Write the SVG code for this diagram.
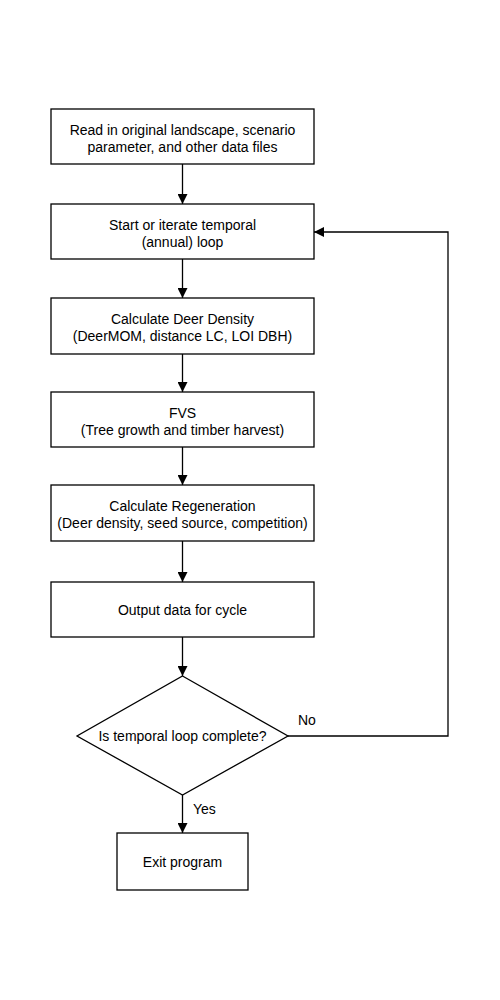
<svg xmlns="http://www.w3.org/2000/svg" width="500" height="1000" viewBox="0 0 500 1000">
<defs>
<style>
.box{fill:#fff;stroke:#000;stroke-width:1.3}
.t{font-family:"Liberation Sans",Arial,sans-serif;font-size:14px;fill:#000;text-anchor:middle}
.l{font-family:"Liberation Sans",Arial,sans-serif;font-size:14px;fill:#000}
.c{fill:none;stroke:#000;stroke-width:1.3}
</style>
<marker id="ah" markerWidth="10" markerHeight="10" viewBox="0 0 10 10" refX="10" refY="5" orient="auto" markerUnits="userSpaceOnUse">
<path d="M0,0 L10,5 L0,10 z" fill="#000"/>
</marker>
</defs>
<rect width="500" height="1000" fill="#fff"/>
<g id="connectors">
<line class="c" x1="182.5" y1="164" x2="182.5" y2="204" marker-end="url(#ah)"/>
<line class="c" x1="182.5" y1="259" x2="182.5" y2="298" marker-end="url(#ah)"/>
<line class="c" x1="182.5" y1="354" x2="182.5" y2="392" marker-end="url(#ah)"/>
<line class="c" x1="182.5" y1="447" x2="182.5" y2="485" marker-end="url(#ah)"/>
<line class="c" x1="182.5" y1="541" x2="182.5" y2="582" marker-end="url(#ah)"/>
<line class="c" x1="182.5" y1="637" x2="182.5" y2="676" marker-end="url(#ah)"/>
<line class="c" x1="182.5" y1="795" x2="182.5" y2="833" marker-end="url(#ah)"/>
<polyline class="c" points="288,736 448,736 448,232 314,232" marker-end="url(#ah)"/>
<text class="l" x="298" y="725">No</text>
<text class="l" x="193" y="814">Yes</text>
</g>
<g id="n1"><rect class="box" x="51" y="109" width="263" height="55"/>
<text class="t" x="182.5" y="134.5">Read in original landscape, scenario</text>
<text class="t" x="182.5" y="152">parameter, and other data files</text></g>
<g id="n2"><rect class="box" x="51" y="204" width="263" height="55"/>
<text class="t" x="182.5" y="229.5">Start or iterate temporal</text>
<text class="t" x="182.5" y="247">(annual) loop</text></g>
<g id="n3"><rect class="box" x="51" y="298" width="263" height="56"/>
<text class="t" x="182.5" y="323.5">Calculate Deer Density</text>
<text class="t" x="182.5" y="341">(DeerMOM, distance LC, LOI DBH)</text></g>
<g id="n4"><rect class="box" x="51" y="392" width="263" height="55"/>
<text class="t" x="182.5" y="417.5">FVS</text>
<text class="t" x="182.5" y="435">(Tree growth and timber harvest)</text></g>
<g id="n5"><rect class="box" x="51" y="485" width="263" height="56"/>
<text class="t" x="182.5" y="510.5">Calculate Regeneration</text>
<text class="t" x="182.5" y="528">(Deer density, seed source, competition)</text></g>
<g id="n6"><rect class="box" x="51" y="582" width="263" height="55"/>
<text class="t" x="182.5" y="614.5">Output data for cycle</text></g>
<g id="n7"><polygon class="box" points="182.5,676 288,736 182.5,795 77,736"/>
<text class="t" x="182.5" y="741">Is temporal loop complete?</text></g>
<g id="n8"><rect class="box" x="117" y="833" width="131" height="57"/>
<text class="t" x="182.5" y="866.5">Exit program</text></g>
</svg>
